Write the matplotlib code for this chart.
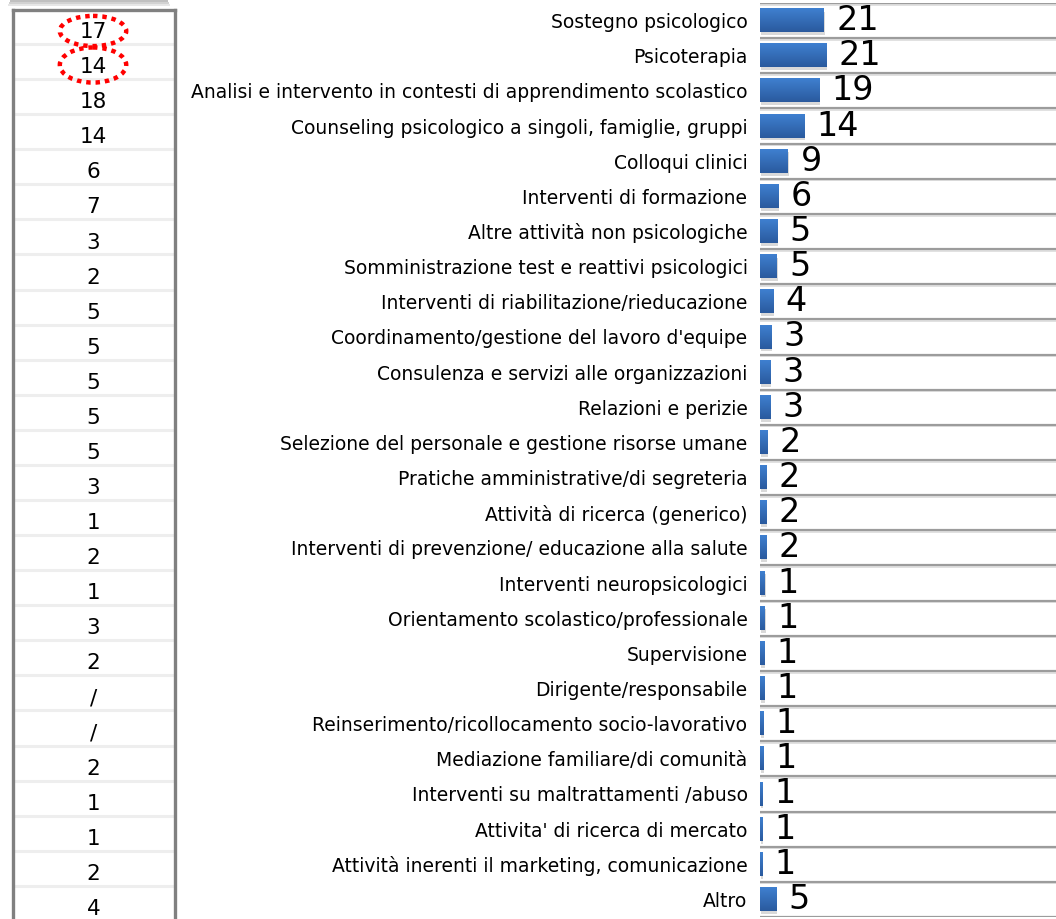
import matplotlib.pyplot as plt
import numpy as np
from matplotlib.patches import Ellipse, Rectangle
from matplotlib.colors import LinearSegmentedColormap

# categories (top to bottom)
categories = [
    "Sostegno psicologico",
    "Psicoterapia",
    "Analisi e intervento in contesti di apprendimento scolastico",
    "Counseling psicologico a singoli, famiglie, gruppi",
    "Colloqui clinici",
    "Interventi di formazione",
    "Altre attività non psicologiche",
    "Somministrazione test e reattivi psicologici",
    "Interventi di riabilitazione/rieducazione",
    "Coordinamento/gestione del lavoro d'equipe",
    "Consulenza e servizi alle organizzazioni",
    "Relazioni e perizie",
    "Selezione del personale e gestione risorse umane",
    "Pratiche amministrative/di segreteria",
    "Attività di ricerca (generico)",
    "Interventi di prevenzione/ educazione alla salute",
    "Interventi neuropsicologici",
    "Orientamento scolastico/professionale",
    "Supervisione",
    "Dirigente/responsabile",
    "Reinserimento/ricollocamento socio-lavorativo",
    "Mediazione familiare/di comunità",
    "Interventi su maltrattamenti /abuso",
    "Attivita' di ricerca di mercato",
    "Attività inerenti il marketing, comunicazione",
    "Altro",
]

bar_values = [20.6, 21.3, 19.1, 14.2, 9.0, 5.9, 5.5, 5.4, 4.2, 3.6, 3.3, 3.3,
              2.3, 2.0, 2.0, 2.0, 1.6, 1.6, 1.3, 1.3, 1.0, 1.0, 0.7, 0.7, 0.7, 5.2]
bar_labels = ["21", "21", "19", "14", "9", "6", "5", "5", "4", "3", "3", "3",
              "2", "2", "2", "2", "1", "1", "1", "1", "1", "1", "1", "1", "1", "5"]

# left column of comparison values
left_values = ["17", "14", "18", "14", "6", "7", "3", "2", "5", "5", "5", "5",
               "5", "3", "1", "2", "1", "3", "2", "/", "/", "2", "1", "1", "2", "4"]

W, H = 1056, 919
fig = plt.figure(figsize=(W / 100, H / 100), dpi=100)
plt.rcParams["font.family"] = ["DejaVu Sans"]

n = len(categories)
rows = np.arange(n)

# ---- bar chart ----
ax = fig.add_axes([760 / W, (H - 917) / H, 296 / W, 914 / H])

cmap = LinearSegmentedColormap.from_list("bar", ["#3f80d0", "#2a5a9e"])
grad = np.linspace(0, 1, 64).reshape(-1, 1)
bh = 0.66
for i, v in enumerate(bar_values):
    # shadow
    ax.add_patch(Rectangle((0.25, i - bh / 2 + 0.08), v, bh, color="#d9d9d9", zorder=1, lw=0))
    ax.imshow(grad, cmap=cmap, aspect="auto", zorder=2,
              extent=[0, v, i + bh / 2, i - bh / 2])
    ax.annotate(bar_labels[i], (v, i), xytext=(9, 0), textcoords="offset points",
                ha="left", va="center", fontsize=24, color="black")

for b in np.arange(-0.5, n, 1.0):
    ax.axhline(b + 0.045, color="#dcdcdc", lw=1.2, zorder=0)
    ax.axhline(b, color="#9c9c9c", lw=1.6, zorder=3)

ax.set_xlim(0, 296 / 3.1)
ax.set_ylim(n - 0.5, -0.5)
ax.set_yticks(rows)
ax.set_yticklabels(categories, fontsize=13.5)
ax.tick_params(axis="y", length=0, pad=9)
ax.set_xticks([])
for s in ax.spines.values():
    s.set_visible(False)

# ---- left table ----
tx0, tx1 = 12.5, 174.5
top_px = 10
pitch = 35.08
first_c = 31
tax = fig.add_axes([tx0 / W, 0, (tx1 - tx0) / W, (H - top_px) / H])
tax.set_xlim(0, 1)
tax.set_ylim((H - first_c) / pitch, (top_px - first_c) / pitch)
for i, t in enumerate(left_values):
    tax.text(0.5, i + 0.03, t, ha="center", va="center", fontsize=15.5, color="black")
for i in range(n):
    tax.axhline(i + 0.37, xmin=0.01, xmax=0.99, color="#eeeeee", lw=2.2, zorder=0)
for e_y, e_h in [(0.0, 0.86), (0.97, 1.0)]:
    tax.add_patch(Ellipse((0.497, e_y), 0.41, e_h, fill=False, edgecolor="red",
                          lw=3.2, linestyle=(0, (1, 1.1)), zorder=5))
tax.set_xticks([])
tax.set_yticks([])
for side in ["left", "right", "top"]:
    tax.spines[side].set_color("#808080")
    tax.spines[side].set_linewidth(2.4)
tax.spines["bottom"].set_visible(False)

# shadow of the box above, cut off by the page
for k, c in enumerate(["#e6e6e6", "#d2d2d2", "#c0c0c0"]):
    fig.patches.append(Rectangle(((8 + k) / W, (H - 6 + 2 * k) / H), (162 - 2 * k) / W, 2 / H,
                                 transform=fig.transFigure, color=c, lw=0))

fig.savefig("out.png", dpi=100)
